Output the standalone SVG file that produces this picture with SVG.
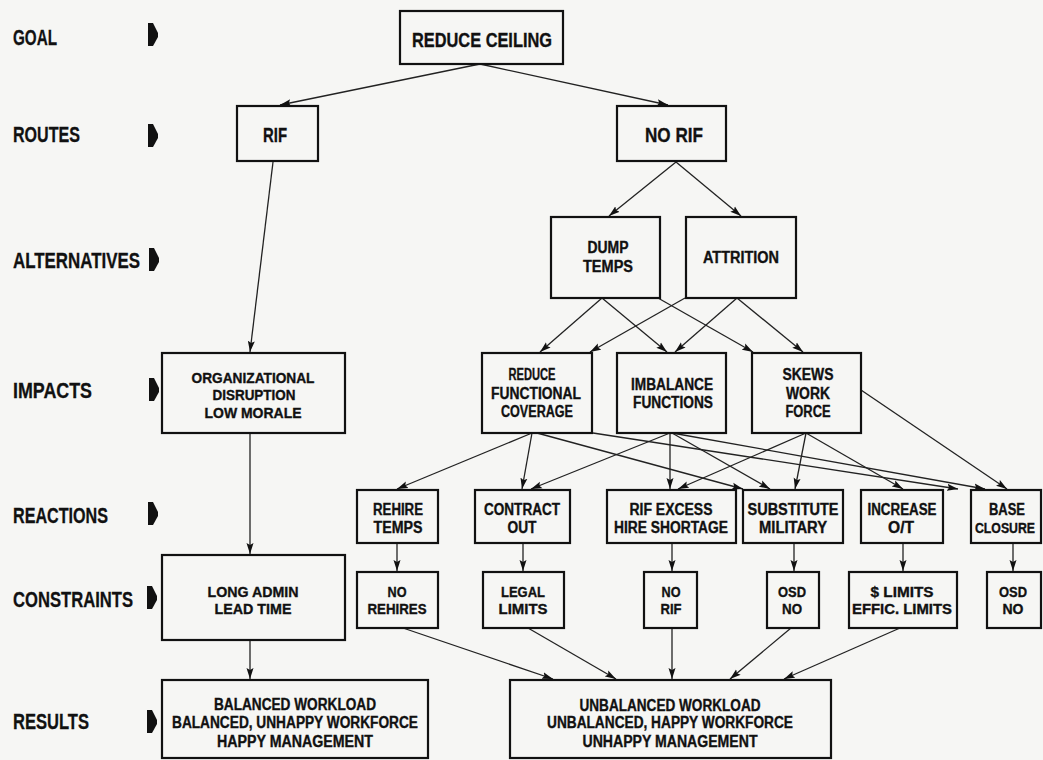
<svg xmlns="http://www.w3.org/2000/svg" width="1043" height="760" viewBox="0 0 1043 760">
<style>
.bg{fill:#f6f6f4}
.box{fill:none;stroke:#111;stroke-width:2.2}
.c line{stroke:#222;stroke-width:1.3;marker-end:url(#ah)}
.t{font-family:"Liberation Sans",Arial,sans-serif;font-weight:bold;fill:#111;stroke:#111;stroke-width:0.35;text-anchor:middle;font-size:16px}
.lab{font-family:"Liberation Sans",Arial,sans-serif;font-weight:bold;fill:#111;stroke:#111;stroke-width:0.3;font-size:22px}
.big{font-size:21px}
.sm{font-size:15px}
.xs{font-size:14px}
.mk{fill:#111}
</style>
<defs>
<marker id="ah" markerUnits="userSpaceOnUse" markerWidth="12" markerHeight="8" refX="11" refY="4" orient="auto">
<path d="M0,0.5 L11,4 L0,7.5 L2,4 z" fill="#111"/>
</marker>
<path id="pm" d="M0,0 L5,0 L10,10 L10,14 L5,23 L0,23 z"/>
</defs>
<rect class="bg" x="0" y="0" width="1043" height="760"/>

<g id="labels">
<text class="lab" x="13" y="45" textLength="44" lengthAdjust="spacingAndGlyphs">GOAL</text>
<text class="lab" x="13" y="142" textLength="67" lengthAdjust="spacingAndGlyphs">ROUTES</text>
<text class="lab" x="13" y="268" textLength="127" lengthAdjust="spacingAndGlyphs">ALTERNATIVES</text>
<text class="lab" x="13" y="398" textLength="79" lengthAdjust="spacingAndGlyphs">IMPACTS</text>
<text class="lab" x="13" y="523" textLength="95" lengthAdjust="spacingAndGlyphs">REACTIONS</text>
<text class="lab" x="13" y="607" textLength="120" lengthAdjust="spacingAndGlyphs">CONSTRAINTS</text>
<text class="lab" x="13" y="729" textLength="76" lengthAdjust="spacingAndGlyphs">RESULTS</text>
<use href="#pm" class="mk" x="148" y="23"/>
<use href="#pm" class="mk" x="148" y="124"/>
<use href="#pm" class="mk" x="149" y="248"/>
<use href="#pm" class="mk" x="149" y="378"/>
<use href="#pm" class="mk" x="148" y="502"/>
<use href="#pm" class="mk" x="147" y="586"/>
<use href="#pm" class="mk" x="147" y="710"/>
</g>

<g id="connectors" class="c">
<line x1="480" y1="64" x2="280" y2="105"/>
<line x1="480" y1="64" x2="668" y2="105"/>
<line x1="273" y1="162" x2="250" y2="352"/>
<line x1="676" y1="162" x2="609" y2="216"/>
<line x1="676" y1="162" x2="741" y2="216"/>
<line x1="602" y1="298" x2="540" y2="352"/>
<line x1="602" y1="298" x2="667" y2="352"/>
<line x1="658" y1="298" x2="753" y2="352"/>
<line x1="685" y1="298" x2="590" y2="352"/>
<line x1="737" y1="298" x2="675" y2="352"/>
<line x1="737" y1="298" x2="803" y2="352"/>
<line x1="250" y1="433" x2="250" y2="554"/>
<line x1="250" y1="640" x2="250" y2="679"/>
<line x1="532" y1="433" x2="397" y2="489"/>
<line x1="532" y1="433" x2="522" y2="489"/>
<line x1="537" y1="433" x2="743" y2="489"/>
<line x1="593" y1="433" x2="958" y2="489"/>
<line x1="670" y1="433" x2="531" y2="489"/>
<line x1="670" y1="433" x2="670" y2="489"/>
<line x1="672" y1="433" x2="770" y2="489"/>
<line x1="672" y1="433" x2="985" y2="489"/>
<line x1="806" y1="433" x2="678" y2="489"/>
<line x1="806" y1="433" x2="795" y2="489"/>
<line x1="806" y1="433" x2="903" y2="489"/>
<line x1="861" y1="390" x2="1007" y2="489"/>
<line x1="397" y1="543" x2="397" y2="571"/>
<line x1="523" y1="543" x2="523" y2="571"/>
<line x1="672" y1="543" x2="672" y2="571"/>
<line x1="794" y1="543" x2="794" y2="571"/>
<line x1="903" y1="543" x2="903" y2="571"/>
<line x1="1013" y1="543" x2="1013" y2="571"/>
<line x1="403" y1="628" x2="553" y2="679"/>
<line x1="528" y1="628" x2="616" y2="679"/>
<line x1="672" y1="628" x2="672" y2="679"/>
<line x1="791" y1="628" x2="730" y2="679"/>
<line x1="900" y1="628" x2="784" y2="679"/>
</g>

<g id="n-reduce-ceiling"><rect class="box" x="400" y="11" width="163" height="53"/>
<text class="t big" x="482" y="47" textLength="140" lengthAdjust="spacingAndGlyphs">REDUCE CEILING</text></g>
<g id="n-rif"><rect class="box" x="237" y="106" width="81" height="55"/>
<text class="t big" x="275" y="142" textLength="24" lengthAdjust="spacingAndGlyphs">RIF</text></g>
<g id="n-no-rif"><rect class="box" x="617" y="106" width="109" height="55"/>
<text class="t big" x="674" y="142" textLength="58" lengthAdjust="spacingAndGlyphs">NO RIF</text></g>
<g id="n-dump-temps"><rect class="box" x="551" y="217" width="109" height="81"/>
<text class="t" x="608" y="253" textLength="41" lengthAdjust="spacingAndGlyphs">DUMP</text>
<text class="t" x="608" y="272" textLength="50" lengthAdjust="spacingAndGlyphs">TEMPS</text></g>
<g id="n-attrition"><rect class="box" x="686" y="217" width="110" height="81"/>
<text class="t" x="741" y="263" textLength="76" lengthAdjust="spacingAndGlyphs">ATTRITION</text></g>
<g id="n-org"><rect class="box" x="162" y="353" width="183" height="80"/>
<text class="t sm" x="253" y="383" textLength="123" lengthAdjust="spacingAndGlyphs">ORGANIZATIONAL</text>
<text class="t sm" x="254" y="400" textLength="83" lengthAdjust="spacingAndGlyphs">DISRUPTION</text>
<text class="t sm" x="253" y="418" textLength="97" lengthAdjust="spacingAndGlyphs">LOW MORALE</text></g>
<g id="n-reduce-func"><rect class="box" x="482" y="353" width="110" height="80"/>
<text class="t" x="532" y="380" textLength="47" lengthAdjust="spacingAndGlyphs">REDUCE</text>
<text class="t" x="536" y="399" textLength="90" lengthAdjust="spacingAndGlyphs">FUNCTIONAL</text>
<text class="t" x="537" y="417" textLength="72" lengthAdjust="spacingAndGlyphs">COVERAGE</text></g>
<g id="n-imbalance"><rect class="box" x="617" y="353" width="109" height="80"/>
<text class="t" x="672" y="390" textLength="82" lengthAdjust="spacingAndGlyphs">IMBALANCE</text>
<text class="t" x="673" y="408" textLength="80" lengthAdjust="spacingAndGlyphs">FUNCTIONS</text></g>
<g id="n-skews"><rect class="box" x="752" y="353" width="109" height="80"/>
<text class="t" x="808" y="380" textLength="51" lengthAdjust="spacingAndGlyphs">SKEWS</text>
<text class="t" x="808" y="399" textLength="44" lengthAdjust="spacingAndGlyphs">WORK</text>
<text class="t" x="808" y="417" textLength="45" lengthAdjust="spacingAndGlyphs">FORCE</text></g>
<g id="n-rehire"><rect class="box" x="357" y="490" width="81" height="53"/>
<text class="t" x="398" y="515" textLength="50" lengthAdjust="spacingAndGlyphs">REHIRE</text>
<text class="t" x="398" y="533" textLength="49" lengthAdjust="spacingAndGlyphs">TEMPS</text></g>
<g id="n-contract"><rect class="box" x="475" y="490" width="95" height="53"/>
<text class="t" x="522" y="515" textLength="76" lengthAdjust="spacingAndGlyphs">CONTRACT</text>
<text class="t" x="522" y="533" textLength="29" lengthAdjust="spacingAndGlyphs">OUT</text></g>
<g id="n-rif-excess"><rect class="box" x="607" y="490" width="129" height="53"/>
<text class="t" x="671" y="515" textLength="83" lengthAdjust="spacingAndGlyphs">RIF EXCESS</text>
<text class="t" x="671" y="533" textLength="114" lengthAdjust="spacingAndGlyphs">HIRE SHORTAGE</text></g>
<g id="n-substitute"><rect class="box" x="743" y="490" width="100" height="53"/>
<text class="t" x="793" y="515" textLength="91" lengthAdjust="spacingAndGlyphs">SUBSTITUTE</text>
<text class="t" x="793" y="533" textLength="68" lengthAdjust="spacingAndGlyphs">MILITARY</text></g>
<g id="n-increase"><rect class="box" x="861" y="490" width="82" height="53"/>
<text class="t" x="902" y="515" textLength="69" lengthAdjust="spacingAndGlyphs">INCREASE</text>
<text class="t" x="901" y="533" textLength="26" lengthAdjust="spacingAndGlyphs">O/T</text></g>
<g id="n-base"><rect class="box" x="971" y="490" width="70" height="53"/>
<text class="t" x="1007" y="515" textLength="36" lengthAdjust="spacingAndGlyphs">BASE</text>
<text class="t xs" x="1005" y="533" textLength="60" lengthAdjust="spacingAndGlyphs">CLOSURE</text></g>
<g id="n-long-admin"><rect class="box" x="162" y="555" width="183" height="85"/>
<text class="t sm" x="253" y="597" textLength="91" lengthAdjust="spacingAndGlyphs">LONG ADMIN</text>
<text class="t sm" x="253" y="614" textLength="77" lengthAdjust="spacingAndGlyphs">LEAD TIME</text></g>
<g id="n-no-rehires"><rect class="box" x="357" y="572" width="81" height="56"/>
<text class="t sm" x="397" y="597" textLength="19" lengthAdjust="spacingAndGlyphs">NO</text>
<text class="t sm" x="397" y="614" textLength="59" lengthAdjust="spacingAndGlyphs">REHIRES</text></g>
<g id="n-legal"><rect class="box" x="483" y="572" width="81" height="56"/>
<text class="t sm" x="523" y="597" textLength="44" lengthAdjust="spacingAndGlyphs">LEGAL</text>
<text class="t sm" x="523" y="614" textLength="49" lengthAdjust="spacingAndGlyphs">LIMITS</text></g>
<g id="n-no-rif2"><rect class="box" x="644" y="572" width="53" height="56"/>
<text class="t sm" x="671" y="597" textLength="19" lengthAdjust="spacingAndGlyphs">NO</text>
<text class="t sm" x="671" y="614" textLength="21" lengthAdjust="spacingAndGlyphs">RIF</text></g>
<g id="n-osd1"><rect class="box" x="767" y="572" width="52" height="56"/>
<text class="t sm" x="792" y="597" textLength="28" lengthAdjust="spacingAndGlyphs">OSD</text>
<text class="t sm" x="792" y="614" textLength="20" lengthAdjust="spacingAndGlyphs">NO</text></g>
<g id="n-limits"><rect class="box" x="849" y="572" width="108" height="56"/>
<text class="t sm" x="902" y="597" textLength="63" lengthAdjust="spacingAndGlyphs">$ LIMITS</text>
<text class="t sm" x="902" y="614" textLength="100" lengthAdjust="spacingAndGlyphs">EFFIC. LIMITS</text></g>
<g id="n-osd2"><rect class="box" x="987" y="572" width="54" height="56"/>
<text class="t sm" x="1013" y="597" textLength="28" lengthAdjust="spacingAndGlyphs">OSD</text>
<text class="t sm" x="1013" y="614" textLength="21" lengthAdjust="spacingAndGlyphs">NO</text></g>
<g id="n-balanced"><rect class="box" x="162" y="680" width="266" height="78"/>
<text class="t" x="295" y="710" textLength="162" lengthAdjust="spacingAndGlyphs">BALANCED WORKLOAD</text>
<text class="t" x="295" y="728" textLength="246" lengthAdjust="spacingAndGlyphs">BALANCED, UNHAPPY WORKFORCE</text>
<text class="t" x="295" y="747" textLength="156" lengthAdjust="spacingAndGlyphs">HAPPY MANAGEMENT</text></g>
<g id="n-unbalanced"><rect class="box" x="510" y="680" width="321" height="78"/>
<text class="t" x="670" y="711" textLength="181" lengthAdjust="spacingAndGlyphs">UNBALANCED WORKLOAD</text>
<text class="t" x="670" y="728" textLength="246" lengthAdjust="spacingAndGlyphs">UNBALANCED, HAPPY WORKFORCE</text>
<text class="t" x="670" y="747" textLength="175" lengthAdjust="spacingAndGlyphs">UNHAPPY MANAGEMENT</text></g>
</svg>
